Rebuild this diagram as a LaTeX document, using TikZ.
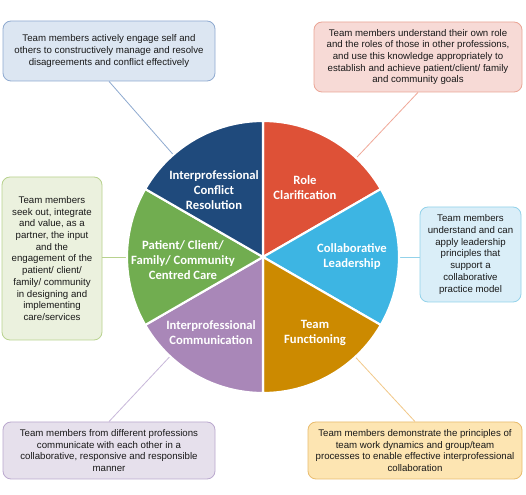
\documentclass[tikz,border=0pt]{standalone}
\usepackage{fontspec}
\setmainfont{Liberation Sans}
\newfontfamily\piefont{Carlito}
\definecolor{cRole}{HTML}{DE5137}
\definecolor{cLead}{HTML}{3DB5E3}
\definecolor{cTeam}{HTML}{CC8A00}
\definecolor{cComm}{HTML}{A987B8}
\definecolor{cPat}{HTML}{71AD50}
\definecolor{cConf}{HTML}{1F4A7C}
\definecolor{fA}{HTML}{DCE6F2}\definecolor{dA}{HTML}{8FAAD0}
\definecolor{fB}{HTML}{F7DAD6}\definecolor{dB}{HTML}{EBA596}\definecolor{lB}{HTML}{F0A898}
\definecolor{fC}{HTML}{DAEEF8}\definecolor{dC}{HTML}{93D2EA}
\definecolor{fD}{HTML}{EBF1DE}\definecolor{dD}{HTML}{B8D28E}
\definecolor{fE}{HTML}{E6E0EC}\definecolor{dE}{HTML}{BAA8CE}\definecolor{lE}{HTML}{C8B8DA}
\definecolor{fF}{HTML}{FDE5B2}\definecolor{dF}{HTML}{E9BC6E}\definecolor{lF}{HTML}{F2C888}
\begin{document}
\begin{tikzpicture}[x=0.75pt,y=-0.75pt,
  box/.style={draw, rounded corners=6pt, line width=0.6pt, inner sep=0pt, align=center,
    font=\fontsize{7.25}{8.8}\selectfont, text=black!90},
  seg/.style={text=white, align=center, font=\piefont\bfseries\fontsize{9.5}{11.2}\selectfont},
  conn/.style={line width=0.6pt}]
\useasboundingbox[fill=white] (0,0) rectangle (526,495);
\coordinate (C) at (263,257);
% boxes
\node[box, fill=fA, draw=dA, minimum width=159pt, minimum height=45pt] (b1) at (109,51)
  {Team members actively engage self and\\others to constructively manage and resolve\\disagreements and conflict effectively};
\node[box, fill=fB, draw=dB, minimum width=156pt, minimum height=52.5pt] (b2) at (418,57)
  {Team members understand their own role\\and the roles of those in other professions,\\and use this knowledge appropriately to\\establish and achieve patient/client/ family\\and community goals};
\node[box, fill=fC, draw=dC, minimum width=75.75pt, minimum height=71.25pt] (b3) at (470.5,254.5)
  {Team members\\understand and can\\apply leadership\\principles that\\support a\\collaborative\\practice model};
\node[box, fill=fD, draw=dD, minimum width=75pt, minimum height=122.25pt] (b4) at (52,258.5)
  {Team members\\seek out, integrate\\and value, as a\\partner, the input\\and the\\engagement of the\\patient/ client/\\family/ community\\in designing and\\implementing\\care/services};
\node[box, fill=fE, draw=dE, minimum width=159pt, minimum height=42.75pt] (b5) at (109,450.5)
  {Team members from different professions\\communicate with each other in a\\collaborative, responsive and responsible\\manner};
\node[box, fill=fF, draw=dF, minimum width=160.5pt, minimum height=42.75pt] (b6) at (415,450.5)
  {Team members demonstrate the principles of\\team work dynamics and group/team\\processes to enable effective interprofessional\\collaboration};
% connectors
\draw[conn, draw=dA] (b1.south) -- (C);
\draw[conn, draw=lB] (b2.south) -- (C);
\draw[conn, draw=dC] (C -| b3.west) -- (C);
\draw[conn, draw=dD] (C -| b4.east) -- (C);
\draw[conn, draw=lE] (b5.north) -- (C);
\draw[conn, draw=lF] (b6.north) -- (C);
% pie
\foreach \a/\b/\c in {30/90/cRole, -30/30/cLead, -90/-30/cTeam, 210/270/cComm, 150/210/cPat, 90/150/cConf}{
  \filldraw[fill=\c, draw=white, line width=1.6pt, line join=round] (C) -- ++(\a:102pt) arc[start angle=\a, end angle=\b, radius=102pt] -- cycle;
}
% labels
\node[seg] (tRole) at (305,188) {Role\\Clarification};
\node[seg] (tLead) at (352,257) {Collaborative\\Leadership};
\node[seg] (tTeam) at (315,333) {Team\\Functioning};
\node[seg] (tComm) at (211,333) {Interprofessional\\Communication};
\node[seg] (tPat) at (183,260) {Patient/ Client/\\Family/ Community\\Centred Care};
\node[seg] (tConf) at (214,190) {Interprofessional\\Conflict\\Resolution};
\end{tikzpicture}
\end{document}
